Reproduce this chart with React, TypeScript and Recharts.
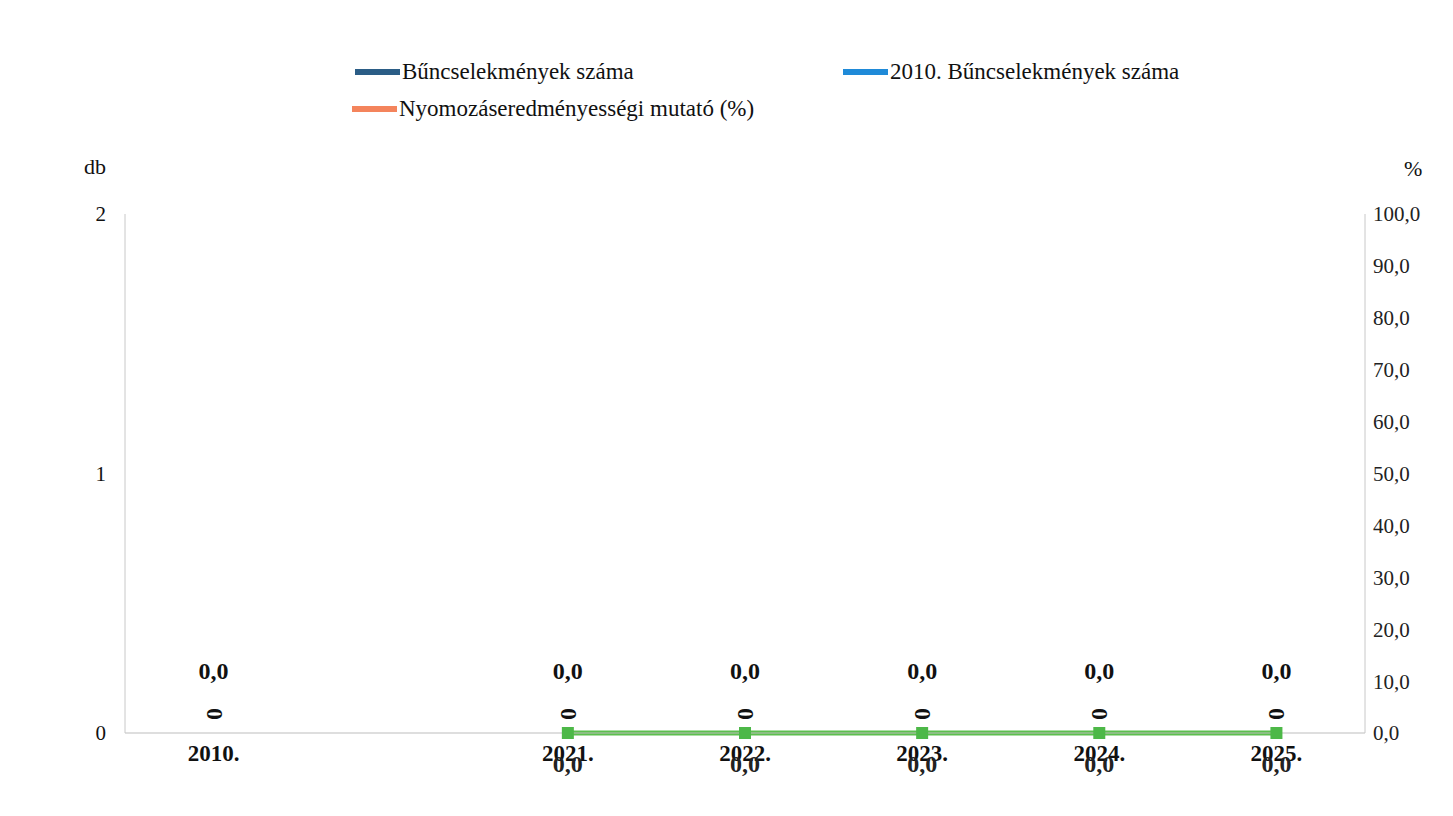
import React from 'react';
import { ComposedChart, Bar, Line, XAxis, YAxis, LabelList } from 'recharts';

const years = ['2010.', '', '2021.', '2022.', '2023.', '2024.', '2025.'];
const crimeCounts: (number | null)[] = [0, null, 0, 0, 0, 0, 0];
const rate2010: (number | null)[] = [0, null, 0, 0, 0, 0, 0];
const rateTrend: (number | null)[] = [null, null, 0, 0, 0, 0, 0];
const leftTicks = [0, 1, 2];
const rightTicks = [0, 10, 20, 30, 40, 50, 60, 70, 80, 90, 100];
const legendItems = [
  { name: 'Bűncselekmények száma', color: '#2b5d86' },
  { name: '2010. Bűncselekmények száma', color: '#1f8ad8' },
  { name: 'Nyomozáseredményességi mutató (%)', color: '#f4845c' },
];

const data = years.map((year, i) => ({
  year,
  count: crimeCounts[i],
  rate: rate2010[i],
  trend: rateTrend[i],
}));

const FONT = '"Liberation Serif", "Times New Roman", serif';
const fmtPct = (v: number) => v.toFixed(1).replace('.', ',');

const CountLabel = (props: any) => {
  const { x, y, value } = props;
  if (value == null || x == null || y == null) return null;
  const cx = x;
  const cy = y - 19;
  return (
    <text
      x={cx}
      y={cy}
      transform={`rotate(-90 ${cx} ${cy})`}
      textAnchor="middle"
      dominantBaseline="central"
      fontFamily={FONT}
      fontWeight="bold"
      fontSize={24}
      fill="#111"
    >
      {String(value)}
    </text>
  );
};

const RateLabel = (props: any) => {
  const { x, y, value } = props;
  if (value == null) return null;
  return (
    <text x={x} y={y - 62} textAnchor="middle" dominantBaseline="central" fontFamily={FONT} fontWeight="bold" fontSize={24} fill="#111">
      {fmtPct(value)}
    </text>
  );
};

const TrendLabel = (props: any) => {
  const { x, y, value } = props;
  if (value == null) return null;
  return (
    <text x={x} y={y + 31} textAnchor="middle" dominantBaseline="central" fontFamily={FONT} fontWeight="bold" fontSize={24} fill="#222">
      {fmtPct(value)}
    </text>
  );
};

const SquareDot = (props: any) => {
  const { cx, cy, value } = props;
  if (value == null || cx == null || cy == null) return null;
  return <rect x={cx - 6} y={cy - 6} width={12} height={12} fill="#4db848" />;
};

const Legend2 = () => {
  const pos = [
    { left: 355, top: 72 },
    { left: 843, top: 72 },
    { left: 352, top: 109 },
  ];
  return (
    <>
      {legendItems.map((it, i) => (
        <div
          key={it.name}
          style={{
            position: 'absolute',
            left: pos[i].left,
            top: pos[i].top - 14,
            height: 28,
            display: 'flex',
            alignItems: 'center',
            fontFamily: FONT,
            fontSize: 23,
            color: '#111',
            whiteSpace: 'nowrap',
          }}
        >
          <span style={{ display: 'inline-block', width: 45, height: 6, background: it.color, marginRight: 2 }} />
          <span style={{ fontFamily: FONT }}>{it.name}</span>
        </div>
      ))}
    </>
  );
};

export default function App() {
  return (
    <div style={{ position: 'absolute', left: 0, top: 0, width: 1453, height: 816, background: '#fff', fontFamily: FONT }}>
      <Legend2 />
      <div style={{ position: 'absolute', left: 84, top: 154, fontFamily: FONT, fontSize: 22, color: '#111' }}>db</div>
      <div style={{ position: 'absolute', left: 1404, top: 156, fontFamily: FONT, fontSize: 22, color: '#111' }}>%</div>
      <ComposedChart width={1453} height={816} data={data} margin={{ top: 214, right: 0, left: 0, bottom: 43 }}>
        <XAxis
          dataKey="year"
          interval={0}
          tickLine={false}
          axisLine={{ stroke: '#bdbdbd' }}
          tick={{ fontFamily: FONT, fontWeight: 'bold', fontSize: 23, fill: '#111' }}
          tickMargin={6}
          height={40}
        />
        <YAxis
          yAxisId="db"
          domain={[0, 2]}
          ticks={leftTicks}
          width={125}
          tickLine={false}
          axisLine={{ stroke: '#c8c8c8' }}
          tickMargin={13}
          tick={{ fontFamily: FONT, fontSize: 21, fill: '#111' }}
        />
        <YAxis
          yAxisId="pct"
          orientation="right"
          domain={[0, 100]}
          ticks={rightTicks}
          width={88}
          tickLine={false}
          axisLine={{ stroke: '#c8c8c8' }}
          tickMargin={2}
          tickFormatter={fmtPct}
          tick={{ fontFamily: FONT, fontSize: 21, fill: '#222' }}
        />
        <Bar yAxisId="db" dataKey="count" fill="#2b5d86" isAnimationActive={false} />
        <Line
          yAxisId="db"
          dataKey="count"
          stroke="transparent"
          dot={false}
          activeDot={false}
          legendType="none"
          isAnimationActive={false}
        >
          <LabelList dataKey="count" content={CountLabel} />
        </Line>
        <Line
          yAxisId="pct"
          dataKey="rate"
          stroke="transparent"
          dot={false}
          activeDot={false}
          isAnimationActive={false}
        >
          <LabelList dataKey="rate" content={RateLabel} />
        </Line>
        <Line
          yAxisId="pct"
          dataKey="trend"
          stroke="#5cbf4e"
          strokeWidth={5}
          dot={SquareDot}
          activeDot={false}
          isAnimationActive={false}
        >
          <LabelList dataKey="trend" content={TrendLabel} />
        </Line>
      </ComposedChart>
    </div>
  );
}
